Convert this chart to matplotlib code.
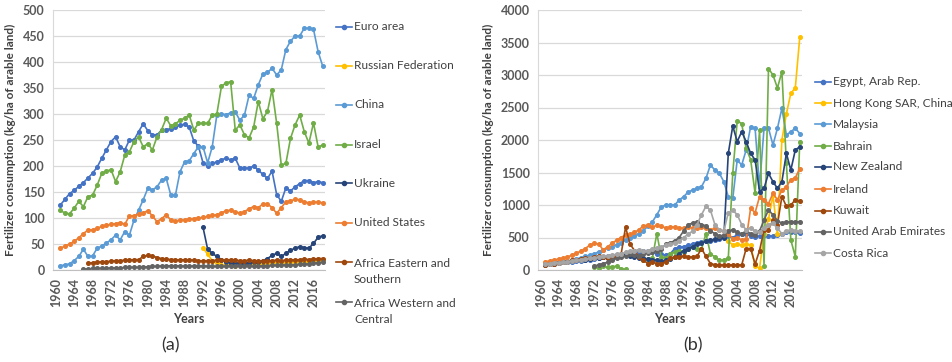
import numpy as np
import matplotlib
matplotlib.use('Agg')
import matplotlib.pyplot as plt
from matplotlib.lines import Line2D

plt.rcParams['font.family'] = ['Lato', 'DejaVu Sans']

nan = np.nan
years = list(range(1961, 2019))

# ---- panel (a) data, kg/ha of arable land ----
euro_area = [125, 136, 147, 153, 161, 168, 177, 186, 198, 215,
             231, 247, 256, 237, 231, 250, 250, 266, 281, 268,
             260, 260, 269, 270, 272, 275, 279, 280, 275, 248,
             238, 206, 200, 205, 208, 212, 215, 212, 215, 196,
             196, 196, 200, 192, 184, 176, 190, 145, 132, 158,
             152, 160, 166, 172, 172, 168, 170, 168]
china = [8, 10, 12, 18, 26, 40, 26, 27, 42, 46,
         52, 58, 67, 58, 74, 67, 96, 115, 135, 157,
         154, 160, 173, 176, 144, 144, 189, 208, 210, 224,
         237, 237, 206, 237, 298, 300, 299, 302, 304, 288,
         298, 336, 330, 356, 377, 380, 388, 375, 385, 424,
         440, 450, 450, 465, 465, 463, 420, 392]
israel = [115, 109, 108, 119, 132, 122, 141, 144, 163, 186,
          190, 193, 170, 189, 221, 227, 247, 256, 237, 243,
          231, 256, 270, 292, 277, 281, 288, 292, 298, 269,
          282, 282, 282, 298, 300, 353, 360, 362, 269, 279,
          260, 254, 275, 324, 291, 305, 347, 282, 202, 205,
          253, 279, 298, 266, 244, 283, 237, 240]
united_states = [42, 46, 50, 55, 62, 70, 77, 77, 80, 84,
                 86, 88, 89, 91, 88, 104, 104, 108, 110, 114,
                 104, 93, 99, 106, 96, 94, 96, 96, 98, 99,
                 100, 101, 103, 105, 106, 110, 114, 115, 112, 109,
                 112, 118, 122, 120, 127, 127, 120, 109, 120, 131,
                 133, 136, 135, 131, 129, 130, 131, 129]
years_ex_ussr = list(range(1992, 2019))
ukraine = [82, 40, 32, 26, 20, 16, 14, 13, 13, 14, 14, 15, 16, 18,
           22, 28, 32, 26, 32, 38, 42, 45, 43, 42, 51, 63, 66]
russia = [43, 30, 18, 13, 10, 10, 9, 8, 9, 10, 11, 11, 12, 11,
          12, 13, 14, 13, 14, 15, 15, 15, 16, 16, 17, 18, 19]
years_aes = list(range(1967, 2019))
africa_east_south = [13, 14, 15, 16, 16, 17, 18, 18, 19, 19,
                     20, 20, 26, 28, 27, 24, 22, 21, 20, 20,
                     19, 20, 19, 19, 18, 17, 18, 18, 19, 20,
                     19, 20, 19, 18, 18, 19, 18, 17, 17, 18,
                     18, 19, 18, 19, 20, 19, 20, 21, 20, 21,
                     22, 22]
years_awc = list(range(1966, 2019))
africa_west_central = [2, 2, 3, 3, 3, 3, 4, 4, 4, 5,
                       5, 5, 5, 6, 6, 7, 7, 8, 8, 8,
                       8, 8, 7, 7, 8, 8, 8, 7, 7, 7,
                       7, 7, 8, 8, 8, 8, 8, 7, 8, 8,
                       8, 9, 9, 9, 10, 10, 10, 11, 11, 12,
                       13, 14, 15]

# ---- panel (b) data ----
egypt = [90, 100, 110, 115, 120, 125, 130, 140, 140, 150,
         160, 170, 180, 200, 210, 220, 230, 240, 250, 260,
         270, 280, 290, 290, 280, 250, 240, 230, 250, 330,
         350, 360, 380, 400, 420, 430, 440, 450, 460, 470,
         510, 520, 500, 540, 560, 560, 520, 510, 520, 540,
         530, 520, 540, 560, 580, 590, 580, 570]
years_hk = list(range(2002, 2019))
hong_kong = [450, 380, 400, 380, 400, 380, 60, 30, 550, 780,
             1150, 550, 2000, 2400, 2720, 2800, 3580]
malaysia = [90, 100, 110, 120, 130, 140, 150, 170, 190, 210,
            230, 250, 280, 310, 340, 360, 390, 420, 460, 490,
            520, 560, 600, 680, 740, 850, 970, 1000, 1000, 1000,
            1077, 1128, 1200, 1230, 1256, 1282, 1410, 1615, 1538, 1487,
            1359, 1128, 1103, 1692, 1615, 1846, 2205, 2180, 1282, 2180,
            2180, 1923, 2180, 2487, 2077, 2128, 2180, 2100]
bahrain = [nan, nan, nan, nan, nan, nan, nan, nan, nan, nan,
           nan, 50, 30, 60, 40, 50, 60, 20, 10, nan,
           nan, nan, 150, 170, 180, 560, 200, 180, 250, 280,
           300, 280, 320, 350, 330, 320, 560, 250, 200, 150,
           150, 180, 1490, 2300, 2250, 1870, 1700, 1180, 2150, 60,
           3100, 3000, 2800, 3050, 1640, 462, 205, 1974]
new_zealand = [80, 90, 100, 110, 120, 130, 140, 150, 150, 160,
               170, 180, 190, 200, 190, 200, 210, 220, 230, 220,
               200, 190, 180, 170, 160, 150, 140, 150, 170, 200,
               250, 300, 330, 360, 400, 420, 440, 460, 470, 490,
               500, 1795, 2215, 1975, 2128, 1975, 1795, 1692, 1205, 1256,
               1487, 1359, 1256, 1359, 1795, 1538, 1846, 1897]
ireland = [128, 140, 155, 170, 185, 200, 230, 260, 290, 330,
           385, 410, 400, 308, 360, 410, 460, 500, 540, 550,
           580, 620, 680, 690, 660, 690, 670, 650, 660, 660,
           650, 640, 660, 650, 640, 660, 640, 620, 640, 620,
           600, 560, 480, 500, 460, 470, 950, 880, 1130, 1080,
           1020, 1180, 1080, 1230, 1280, 1390, 1420, 1560]
kuwait = [80, 90, 100, 110, 120, 130, 150, 160, 170, 180,
          190, 200, 210, 200, 180, 200, 220, 240, 660, 400,
          300, 200, 150, 100, 120, 100, 90, 130, 180, 200,
          200, 210, 200, 200, 210, 330, 210, 100, 80, 77,
          77, 77, 77, 77, 77, 330, 330, 90, 300, 615,
          615, 770, 700, 1130, 980, 1000, 1080, 1060]
uae = [nan, nan, nan, nan, nan, nan, nan, nan, nan, nan,
       nan, 60, 80, 100, 120, 150, 180, 200, 220, 250,
       230, 220, 250, 260, 280, 300, 320, 400, 420, 450,
       500, 600, 700, 720, 740, 700, 680, 600, 560, 520,
       540, 600, 620, 580, 560, 600, 560, 540, 600, 770,
       923, 850, 760, 718, 740, 740, 740, 744]
costa_rica = [90, 100, 110, 110, 120, 130, 140, 150, 160, 170,
              180, 190, 200, 210, 220, 230, 240, 250, 270, 290,
              300, 310, 290, 300, 320, 340, 360, 380, 400, 420,
              450, 500, 550, 600, 700, 850, 980, 920, 700, 620,
              600, 880, 920, 850, 700, 620, 650, 600, 580, 650,
              700, 720, 640, 560, 600, 620, 600, 600]

# Excel-like colours
BLUE, ORANGE, LGRAY, GOLD = '#4472C4', '#ED7D31', '#A5A5A5', '#FFC000'
LBLUE, GREEN, NAVY, BROWN, DGRAY = '#5B9BD5', '#70AD47', '#264478', '#9E480E', '#636363'

series_a = [
    ('Euro area', years, euro_area, BLUE),
    ('Russian Federation', years_ex_ussr, russia, GOLD),
    ('China', years, china, LBLUE),
    ('Israel', years, israel, GREEN),
    ('Ukraine', years_ex_ussr, ukraine, NAVY),
    ('United States', years, united_states, ORANGE),
    ('Africa Eastern and\nSouthern', years_aes, africa_east_south, BROWN),
    ('Africa Western and\nCentral', years_awc, africa_west_central, DGRAY),
]
series_b = [
    ('Egypt, Arab Rep.', years, egypt, BLUE),
    ('Hong Kong SAR, China', years_hk, hong_kong, GOLD),
    ('Malaysia', years, malaysia, LBLUE),
    ('Bahrain', years, bahrain, GREEN),
    ('New Zealand', years, new_zealand, NAVY),
    ('Ireland', years, ireland, ORANGE),
    ('Kuwait', years, kuwait, BROWN),
    ('United Arab Emirates', years, uae, DGRAY),
    ('Costa Rica', years, costa_rica, LGRAY),
]

W, H = 952, 362
fig = plt.figure(figsize=(W / 100, H / 100), dpi=100)
TXT = '#404040'
LEG_FS = 8.6


def px_axes(x0, y0, x1, y1):
    return fig.add_axes([x0 / W, 1 - y1 / H, (x1 - x0) / W, (y1 - y0) / H])


def style_axes(ax, ymax, ystep):
    ax.set_xlim(1959.4, 2018.5)
    ax.set_ylim(0, ymax)
    ax.set_yticks(np.arange(0, ymax + 1, ystep))
    ax.set_xticks(range(1960, 2017, 4))
    ax.set_xticklabels([str(y) for y in range(1960, 2017, 4)], rotation=90)
    ax.grid(axis='y', color='#D9D9D9', linewidth=0.9)
    ax.set_axisbelow(True)
    for s in ['top', 'right']:
        ax.spines[s].set_visible(False)
    ax.spines['left'].set_color('#D9D9D9')
    ax.spines['bottom'].set_color('#BFBFBF')
    ax.tick_params(length=0, pad=6, labelsize=9, labelcolor='#595959')
    for lab in ax.get_xticklabels() + ax.get_yticklabels():
        lab.set_fontweight('bold')
    ax.set_xlabel('Years', fontsize=9, fontweight='bold', color=TXT, labelpad=4)
    ax.set_ylabel('Fertilizer consumption (kg/ha of arable land)', fontsize=8.5,
                  fontweight='bold', color=TXT, labelpad=5)


def legend_entry(x0, x1, y, color, label, fs, ytext=None, ls=1.2):
    xs = [x0 / W, (x0 + x1) / 2 / W, x1 / W]
    ys = [1 - y / H] * 3
    fig.add_artist(Line2D(xs, ys, transform=fig.transFigure, color=color, lw=1.2,
                          marker='o', markersize=3, markevery=[1]))
    yt = y if ytext is None else ytext
    fig.text((x1 + 2) / W, 1 - yt / H, label, fontsize=fs, color=TXT,
             va='center', ha='left', linespacing=ls)


# ---- (a) ----
ax1 = px_axes(53, 10, 325, 270)
for name, xs, vals, col in series_a:
    ax1.plot(xs, vals, color=col, lw=1.2, marker='o', markersize=2.6)
style_axes(ax1, 500, 50)

rows_a = [26.7, 65.7, 105, 145, 183.3, 222.7, 261.7, 301.7]
for (name, xs, vals, col), y in zip(series_a, rows_a):
    if '\n' in name:
        legend_entry(336, 352, y, col, name, LEG_FS, ytext=y + 10, ls=1.6)
    else:
        legend_entry(336, 352, y, col, name, LEG_FS)

# ---- (b) ----
ax2 = px_axes(538, 10, 802, 270)
for name, xs, vals, col in series_b:
    ax2.plot(xs, vals, color=col, lw=1.2, marker='o', markersize=2.6)
style_axes(ax2, 4000, 500)

rows_b = [81.7, 103.3, 124.3, 146, 166.7, 189, 210.7, 231.7, 253.3]
for (name, xs, vals, col), y in zip(series_b, rows_b):
    legend_entry(815, 831, y, col, name, LEG_FS)

fig.text(171 / W, 1 - 345 / H, '(a)', fontsize=13, color='#333333', ha='center', va='center')
fig.text(693 / W, 1 - 345 / H, '(b)', fontsize=13, color='#333333', ha='center', va='center')

fig.savefig('out.png', dpi=100)
